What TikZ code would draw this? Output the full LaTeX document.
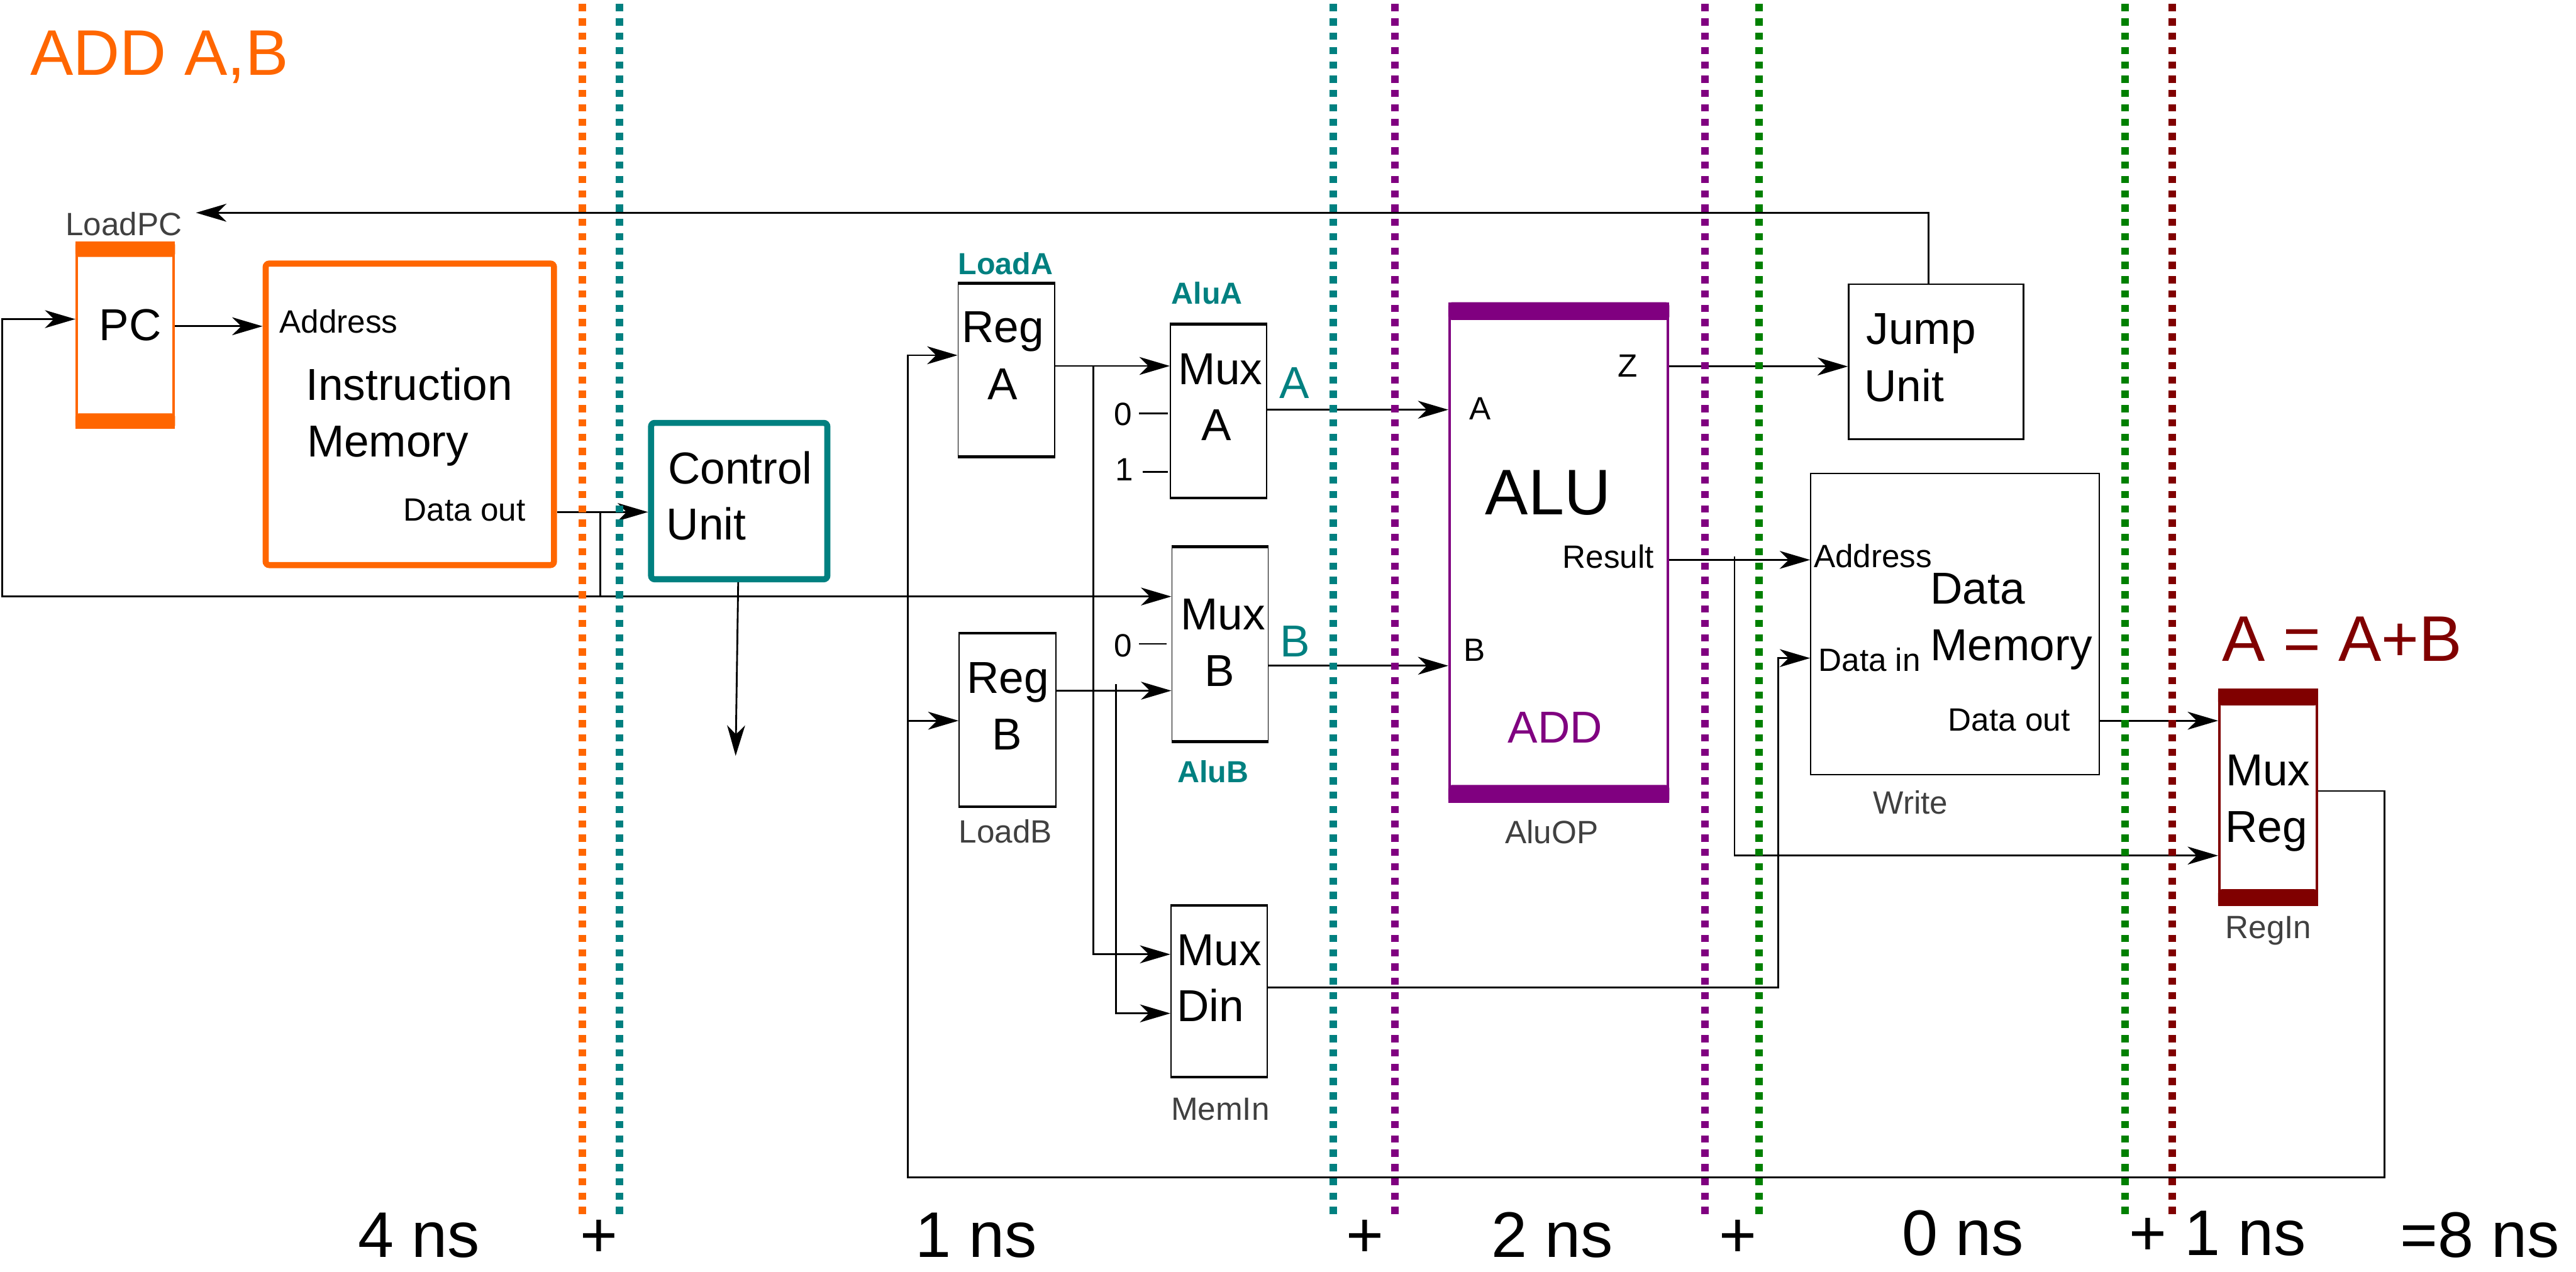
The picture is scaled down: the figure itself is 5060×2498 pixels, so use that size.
\documentclass[tikz,border=0pt]{standalone}
\usepackage{fontspec}
\setmainfont{Liberation Sans}
\usetikzlibrary{arrows.meta,calc}
\definecolor{cOr}{HTML}{FF6600}
\definecolor{cTe}{HTML}{008080}
\definecolor{cPu}{HTML}{800080}
\definecolor{cGr}{HTML}{008000}
\definecolor{cRd}{HTML}{800000}
\definecolor{cGy}{HTML}{404040}
\newcommand\mybars[1]{\draw[line width=1.6pt] (#1.north west)--(#1.north east) (#1.south west)--(#1.south east);}
\begin{document}
\begin{tikzpicture}[x=0.01cm,y=-0.01cm,
  box/.style={rectangle,inner sep=0,draw},
  regbox/.style={box,line width=0.6pt},
  lbl/.style={inner sep=0,outer sep=0},
  fL/.style={font=\fontsize{36}{40}\selectfont},
  fM/.style={font=\fontsize{25}{28}\selectfont},
  fS/.style={font=\fontsize{18}{20}\selectfont},
  fB/.style={font=\fontsize{17}{19}\selectfont\bfseries},
  bot/.style={lbl,fL},
  arr/.style={-{Stealth[length=17pt,width=10pt,inset=5pt]},line width=1pt},
  wire/.style={line width=1pt},
  dotl/.style={line width=4.2pt,dash pattern=on 4pt off 4pt},
]
\useasboundingbox (0,0) rectangle (5060,2498);

% ---------- boxes ----------
\node[box,draw=cOr,line width=1.4pt,minimum width=1.91cm,minimum height=3.62cm] (pc) at (246,658.5) {};
\fill[cOr,rounded corners=2pt] (pc.north west) rectangle ($(pc.north east)+(0,30)$);
\fill[cOr,rounded corners=2pt] ($(pc.south west)+(0,-30)$) rectangle (pc.south east);

\node[box,draw=cOr,line width=3.4pt,rounded corners=2pt,minimum width=5.66cm,minimum height=5.92cm] (im) at (805,814) {};
\node[box,draw=cTe,line width=3.4pt,rounded corners=2pt,minimum width=3.46cm,minimum height=3.07cm] (cu) at (1452,984.5) {};

\node[regbox,minimum width=1.9cm,minimum height=3.38cm] (ra) at (1977,727) {};
\node[regbox,minimum width=1.9cm,minimum height=3.39cm] (rb) at (1979,1414.5) {};
\node[regbox,minimum width=1.89cm,minimum height=3.39cm] (ma) at (2393.5,807.5) {};
\node[regbox,minimum width=1.89cm,minimum height=3.81cm] (mb) at (2396.5,1265.5) {};
\node[regbox,minimum width=1.89cm,minimum height=3.35cm] (md) at (2394.5,1947.5) {};
\mybars{ra}\mybars{rb}\mybars{ma}\mybars{mb}\mybars{md}

\node[box,draw=cPu,line width=1.4pt,minimum width=4.29cm,minimum height=9.78cm] (alu) at (3062,1085.5) {};
\fill[cPu,rounded corners=2pt] (alu.north west) rectangle ($(alu.north east)+(0,35)$);
\fill[cPu,rounded corners=2pt] ($(alu.south west)+(0,-35)$) rectangle (alu.south east);

\node[box,line width=0.9pt,minimum width=3.43cm,minimum height=3.04cm] (ju) at (3803,710.5) {};
\node[box,line width=0.7pt,minimum width=5.66cm,minimum height=5.92cm] (dm) at (3840,1226) {};

\node[box,draw=cRd,line width=1.4pt,minimum width=1.91cm,minimum height=4.22cm] (mr) at (4455,1566.5) {};
\fill[cRd,rounded corners=2pt] (mr.north west) rectangle ($(mr.north east)+(0,33)$);
\fill[cRd,rounded corners=2pt] ($(mr.south west)+(0,-33)$) rectangle (mr.south east);

% ---------- texts ----------
\node[lbl,fL,text=cOr,anchor=base west] (title) at (60,148) {ADD A,B};
\node[lbl,fS,text=cGy,anchor=base] (tlpc) at (243,463) {LoadPC};
\node[lbl,fM,anchor=base] (tpc) at (256,669) {PC};
\node[lbl,fS,anchor=base west] (timad) at (549,654) {Address};
\node[lbl,fM,anchor=base west] (timi) at (601,786) {Instruction};
\node[lbl,fM,anchor=base west] (timm) at (603,898) {Memory};
\node[lbl,fS,anchor=base west] (timdo) at (793,1024) {Data out};
\node[lbl,fM,anchor=base west] (tcu1) at (1312,951) {Control};
\node[lbl,fM,anchor=base west] (tcu2) at (1309,1061) {Unit};

\node[lbl,fB,text=cTe,anchor=base] (tla) at (1975,539) {LoadA};
\node[lbl,fM,anchor=base] (tra1) at (1970,673) {Reg};
\node[lbl,fM,anchor=base] (tra2) at (1970,785) {A};
\node[lbl,fM,anchor=base] (trb1) at (1980,1362) {Reg};
\node[lbl,fM,anchor=base] (trb2) at (1978,1473) {B};
\node[lbl,fS,text=cGy,anchor=base] (tlb) at (1975,1656) {LoadB};

\node[lbl,fB,text=cTe,anchor=base] (taa) at (2371,597) {AluA};
\node[lbl,fM,anchor=base] (tma1) at (2397,756) {Mux};
\node[lbl,fM,anchor=base] (tma2) at (2390,865) {A};
\node[lbl,fS,anchor=base west] (z0a) at (2188,836) {0};
\node[lbl,fS,anchor=base west] (z1a) at (2191,944) {1};
\node[lbl,fM,text=cTe,anchor=base west] (tA) at (2513,782) {A};

\node[lbl,fM,anchor=base] (tmb1) at (2402,1237) {Mux};
\node[lbl,fM,anchor=base] (tmb2) at (2396,1348) {B};
\node[lbl,fS,anchor=base west] (z0b) at (2189,1290) {0};
\node[lbl,fM,text=cTe,anchor=base west] (tB) at (2514,1290) {B};
\node[lbl,fB,text=cTe,anchor=base] (tab) at (2383,1538) {AluB};

\node[lbl,fM,anchor=base west] (tmd1) at (2312,1897) {Mux};
\node[lbl,fM,anchor=base west] (tmd2) at (2312,2007) {Din};
\node[lbl,fS,text=cGy,anchor=base] (tmi) at (2397,2201) {MemIn};

\node[lbl,fS,anchor=base] (tz) at (3197,741) {Z};
\node[lbl,fS,anchor=base] (taluA) at (2907,825) {A};
\node[lbl,fL,anchor=base] (talu) at (3041,1011) {ALU};
\node[lbl,fS,anchor=base east] (tres) at (3249,1116) {Result};
\node[lbl,fS,anchor=base] (taluB) at (2896,1299) {B};
\node[lbl,fM,text=cPu,anchor=base] (tadd) at (3055,1460) {ADD};
\node[lbl,fS,text=cGy,anchor=base] (taop) at (3048,1657) {AluOP};

\node[lbl,fM,anchor=base west] (tju1) at (3666,676) {Jump};
\node[lbl,fM,anchor=base west] (tju2) at (3662,789) {Unit};

\node[lbl,fS,anchor=base west] (tdmad) at (3563,1115) {Address};
\node[lbl,fM,anchor=base west] (tdm1) at (3792,1186) {Data};
\node[lbl,fM,anchor=base west] (tdm2) at (3792,1298) {Memory};
\node[lbl,fS,anchor=base west] (tdmdi) at (3572,1319) {Data in};
\node[lbl,fS,anchor=base west] (tdmdo) at (3827,1436) {Data out};
\node[lbl,fS,text=cGy,anchor=base] (twr) at (3753,1599) {Write};

\node[lbl,fL,text=cRd,anchor=base west] (taeq) at (4365,1299) {A = A+B};
\node[lbl,fM,anchor=base west] (tmr1) at (4372,1543) {Mux};
\node[lbl,fM,anchor=base west] (tmr2) at (4371,1655) {Reg};
\node[lbl,fS,text=cGy,anchor=base] (tri) at (4456,1844) {RegIn};

\node[bot,anchor=base west] (n1) at (703,2470) {4 ns};
\node[bot,anchor=base] (p1) at (1177,2470) {+};
\node[bot,anchor=base west] (n2) at (1798,2470) {1 ns};
\node[bot,anchor=base] (p2) at (2681,2470) {+};
\node[bot,anchor=base west] (n3) at (2929,2470) {2 ns};
\node[bot,anchor=base] (p3) at (3414,2470) {+};
\node[bot,anchor=base west] (n4) at (3736,2466) {0 ns};
\node[bot,anchor=base] (p4) at (4219,2466) {+};
\node[bot,anchor=base west] (n5) at (4291,2466) {1 ns};
\node[bot,anchor=base west] (n6) at (4715,2470) {=8 ns};

% ---------- connectors ----------
\coordinate (lpc) at (385,418);
\coordinate (cudn) at (1445,1485);
\coordinate (j1) at (1179,1006);
\coordinate (j2) at (1179,1172);

\draw[arr] (ju.north -| 3788,0) |- (lpc);
\draw[arr] (im.east |- 0,1006) -- (cu.west |- 0,1006);
\draw[arr] (j1) -- (j2) -- (mb.west |- 0,1172);
\draw[arr] (j2) -| (4,627) -- (pc.west |- 0,627);
\draw[arr] (pc.east |- 0,641) -- (im.west |- 0,641);
\draw[arr] (cu.south -| 1450,0) -- (cudn);

\draw[arr] (mr.east |- 0,1554) -| (4684,2313) -| (1783,698) -- (ra.west |- 0,698);
\draw[arr] (1783,1416) -- (rb.west |- 0,1416);

\draw[arr] (ra.east |- 0,719) -- (ma.west |- 0,719);
\draw[arr] (2148,719) |- (md.west |- 0,1875);
\draw[arr] (rb.east |- 0,1357) -- (mb.west |- 0,1357);
\draw[arr] (2192,1344) |- (md.west |- 0,1991);

\draw[wire] ($(z0a.base east)+(14,-24)$) -- ($(ma.west |- z0a.base)+(-4,-24)$);
\draw[wire] ($(z1a.base east)+(18,-17)$) -- ($(ma.west |- z1a.base)+(-4,-17)$);
\draw[wire] ($(z0b.base east)+(13,-25)$) -- ($(mb.west |- z0b.base)+(-9,-25)$);

\draw[arr] (ma.east |- 0,805) -- (alu.west |- 0,805);
\draw[arr] (mb.east |- 0,1308) -- (alu.west |- 0,1308);
\draw[arr] (alu.east |- 0,720) -- (ju.west |- 0,720);
\draw[arr] (alu.east |- 0,1100) -- (dm.west |- 0,1100);
\draw[arr] (3407,1093) |- (mr.west |- 0,1681);
\draw[arr] (md.east |- 0,1940) -| (3493,1293) -- (dm.west |- 0,1293);
\draw[arr] (dm.east |- 0,1416) -- (mr.west |- 0,1416);

% ---------- timing lines ----------
\foreach \x/\c in {1144/cOr,1217/cTe,2619/cTe,2740/cPu,3349/cPu,3455/cGr,4174/cGr,4267/cRd}
  \draw[dotl,\c] (\x,8) -- (\x,2388);
\end{tikzpicture}
\end{document}
